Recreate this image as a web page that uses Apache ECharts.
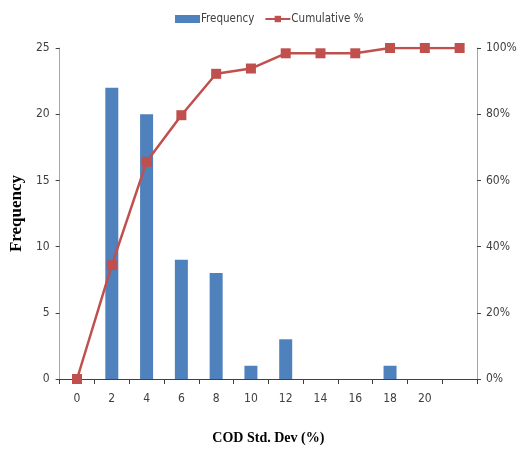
<!DOCTYPE html>
<html><head><meta charset="utf-8">
<script src="https://cdn.jsdelivr.net/npm/echarts@6/dist/echarts.min.js"></script>
<style>html,body{margin:0;padding:0;background:#fff}#c{width:524px;height:453px}</style>
</head><body><div id="c"></div>
<script>
var categories = ['0','2','4','6','8','10','12','14','16','18','20',''];
var frequency = [0, 22, 20, 9, 8, 1, 3, 0, 0, 1, 0, 0];
var cumulative = [0, 34.4, 65.6, 79.7, 92.2, 93.8, 98.4, 98.4, 98.4, 100, 100, 100];
var freqTicks = {min:0, max:25, interval:5};
var pctTicks = {min:0, max:100, interval:20};

var font = '"DejaVu Sans Condensed","Liberation Sans",sans-serif';
var chart = echarts.init(document.getElementById('c'));
chart.setOption({
  animation:false,
  textStyle:{fontFamily:font},
  legend:{
    top:8, left:170, itemGap:10,
    textStyle:{fontFamily:font, fontSize:11.5, color:'#404040', padding:[0,0,0,-4]},
    data:[
      {name:'Frequency', icon:'rect', itemStyle:{color:'#4F81BD'}},
      {name:'Cumulative %'}
    ],
    itemWidth:25, itemHeight:8
  },
  grid:{left:57, right:47, top:48, bottom:74},
  xAxis:[{
    type:'category', data:categories, position:'bottom',
    name:'COD Std. Dev (%)', nameLocation:'middle', nameGap:52,
    nameTextStyle:{fontFamily:'"Liberation Serif",serif', fontWeight:'bold', fontSize:14, color:'#000'},
    axisLine:{lineStyle:{color:'#000', width:1}},
    axisTick:{show:true, length:5, lineStyle:{color:'#404040'}},
    axisLabel:{margin:14, fontSize:12, color:'#404040', interval:0},
    splitLine:{show:false}
  },{
    type:'category', data:categories, position:'top',
    axisLine:{show:true, lineStyle:{color:'#404040', width:1}},
    axisTick:{show:false}, axisLabel:{show:false}, splitLine:{show:false}
  }],
  yAxis:[{
    type:'value', min:freqTicks.min, max:freqTicks.max, interval:freqTicks.interval,
    name:'Frequency', nameLocation:'middle', nameGap:33, nameRotate:90,
    nameTextStyle:{fontFamily:'"Liberation Serif",serif', fontWeight:'bold', fontSize:17, color:'#000'},
    axisLine:{show:true, lineStyle:{color:'#A6A6A6'}},
    axisTick:{show:true, length:4, lineStyle:{color:'#404040'}},
    axisLabel:{margin:10, fontSize:12, color:'#404040'},
    splitLine:{show:false}
  },{
    type:'value', min:pctTicks.min, max:pctTicks.max, interval:pctTicks.interval,
    position:'right',
    axisLine:{show:true, lineStyle:{color:'#A6A6A6'}},
    axisTick:{show:true, length:4, lineStyle:{color:'#404040'}},
    axisLabel:{margin:9, fontSize:12, color:'#404040', formatter:'{value}%'},
    splitLine:{show:false}
  }],
  series:[{
    name:'Frequency', type:'bar', data:frequency, xAxisIndex:0, yAxisIndex:0,
    barWidth:13, itemStyle:{color:'#4F81BD'}
  },{
    name:'Cumulative %', type:'line', data:cumulative, xAxisIndex:0, yAxisIndex:1,
    symbol:'rect', symbolSize:10,
    lineStyle:{color:'#C0504D', width:2.5},
    itemStyle:{color:'#C0504D'}
  }]
});
</script></body></html>
